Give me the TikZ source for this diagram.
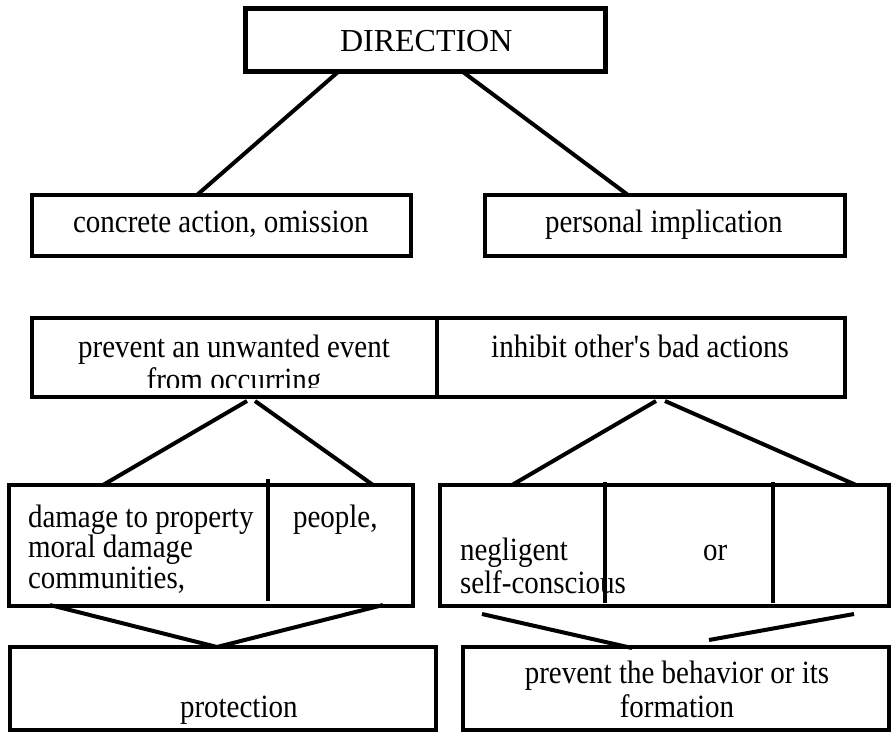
\documentclass[tikz,border=0pt]{standalone}
\usepackage{fontspec}
\setmainfont{Liberation Serif}
% slightly tall lettering used for all labels
\newcommand\talltext[1]{\scalebox{1}[1.12]{#1}}
\begin{document}
\begin{tikzpicture}[x=1pt,y=-1pt,
  box/.style={draw, line width=4pt, rectangle, inner sep=0pt, outer sep=0pt},
  topbox/.style={box, line width=5pt},
  link/.style={line width=4pt},
  divider/.style={line width=4pt},
  txt/.style={inner sep=0pt, outer sep=0pt, anchor=base west, font=\fontsize{29}{31}\selectfont},
  ctxt/.style={txt, anchor=base}]
\useasboundingbox (0,0) rectangle (892,733);

% frames
\node[topbox, minimum width=360pt, minimum height=63pt] (dir) at (425,40.5) {};
\node[box, minimum width=379pt, minimum height=61pt] (conc) at (221.5,225.5) {};
\node[box, minimum width=360pt, minimum height=61pt] (pers) at (665,225.5) {};
\node[box, minimum width=405pt, minimum height=79pt] (prevL) at (234.5,357.5) {};
\node[box, minimum width=408pt, minimum height=79pt] (inhR) at (641,357.5) {};
\node[box, minimum width=404pt, minimum height=121pt] (damL) at (211,545.5) {};
\node[box, minimum width=449pt, minimum height=121pt] (negR) at (664.5,545.5) {};
\node[box, minimum width=426pt, minimum height=83pt] (prot) at (223,688.5) {};
\node[box, minimum width=426pt, minimum height=83pt] (prevB) at (676,688.5) {};

% labels
\node[txt, font=\fontsize{32}{34}\selectfont] (tdir) at (340,52) {DIRECTION};
\node[txt] (tconc) at (73,233) {\talltext{concrete action, omission}};
\node[txt] (tpers) at (545,233) {\talltext{personal implication}};
\node[ctxt] (tprev1) at (234,357) {\talltext{prevent an unwanted event}};
\begin{scope}
  \clip (32,318) rectangle (437,387);
  \node[ctxt] (tprev2) at (234,390) {\talltext{from occurring}};
\end{scope}
\node[ctxt] (tinh) at (640,357) {\talltext{inhibit other\textquotesingle s bad actions}};
\node[txt] (tdam1) at (28,527) {\talltext{damage to property}};
\node[txt] (tdam2) at (28,557) {\talltext{moral damage}};
\node[txt] (tdam3) at (28,588) {\talltext{communities,}};
\node[txt] (tpeo) at (293,527) {\talltext{people,}};
\node[txt] (tneg1) at (460,560) {\talltext{negligent}};
\node[txt] (tneg2) at (460,593) {\talltext{self-conscious}};
\node[txt] (tor) at (703,560) {\talltext{or}};
\node[txt] (tprot) at (180,717) {\talltext{protection}};
\node[ctxt] (tpb1) at (677,683) {\talltext{prevent the behavior or its}};
\node[ctxt] (tpb2) at (677,717) {\talltext{formation}};

% cell dividers
\coordinate (dA1) at (437,316); \coordinate (dA2) at (437,399);
\draw[divider] (dA1) -- (dA2);
\coordinate (dB1) at (268,479); \coordinate (dB2) at (268,601);
\draw[divider] (dB1) -- (dB2);
\coordinate (dC1) at (605,482); \coordinate (dC2) at (605,603);
\draw[divider] (dC1) -- (dC2);
\coordinate (dD1) at (773,482); \coordinate (dD2) at (773,603);
\draw[divider] (dD1) -- (dD2);

% connectors
\draw[link] ([xshift=-87pt]dir.south) -- ([xshift=-24.5pt]conc.north);
\draw[link] ([xshift=38pt]dir.south) -- ([xshift=-37pt]pers.north);

\draw[link] ([xshift=12.5pt,yshift=-4pt]prevL.south) -- ([xshift=-108pt]damL.north);
\draw[link] ([xshift=20.5pt,yshift=-4pt]prevL.south) -- ([xshift=162pt]damL.north);
\draw[link] ([xshift=15pt,yshift=-4pt]inhR.south) -- ([xshift=-152.5pt]negR.north);
\draw[link] ([xshift=24pt,yshift=-4pt]inhR.south) -- ([xshift=191.5pt]negR.north);

\draw[link] ([xshift=-161pt,yshift=1pt]damL.south) -- ([xshift=-6pt]prot.north);
\draw[link] ([xshift=172pt,yshift=1pt]damL.south) -- ([xshift=-6pt]prot.north);
\draw[link] ([xshift=-182.5pt,yshift=-8pt]negR.south) -- ([xshift=-44pt,yshift=-1pt]prevB.north);
\draw[link] ([xshift=189.5pt,yshift=-8pt]negR.south) -- ([xshift=33pt,yshift=7pt]prevB.north);
\end{tikzpicture}
\end{document}
